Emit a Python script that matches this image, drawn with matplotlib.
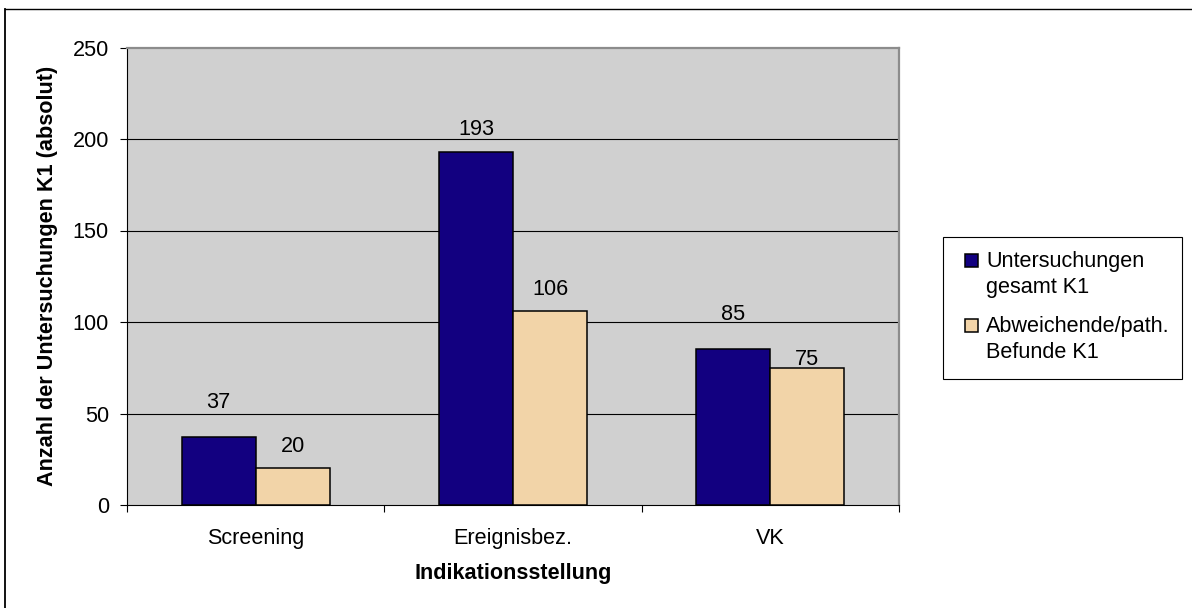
import matplotlib
matplotlib.use("Agg")
import matplotlib.pyplot as plt
from matplotlib.patches import Rectangle
from matplotlib.lines import Line2D

plt.rcParams['font.family'] = ['Liberation Sans', 'DejaVu Sans']

# Data
categories = ["Screening", "Ereignisbez.", "VK"]
series_names = ["Untersuchungen\ngesamt K1", "Abweichende/path.\nBefunde K1"]
untersuchungen_gesamt = [37, 193, 85]
abweichende_befunde = [20, 106, 75]
y_ticks = [0, 50, 100, 150, 200, 250]

colors = ["#120080", "#F2D4A8"]
# vertical gap (px) between each value label's baseline and its bar top
label_gaps = [[29, 17, 29], [16, 16, 3]]
FS = 15.6

W, H = 1192, 608
fig = plt.figure(figsize=(W / 100, H / 100), dpi=100)


def fx(px):
    return px / W


def fy(py):
    return 1 - py / H


ax = fig.add_axes([fx(127), fy(505), fx(899) - fx(127), fy(47.5) - fy(505)])
ax.set_facecolor("#D0D0D0")
ax.set_xlim(-0.5, len(categories) - 0.5)
ax.set_ylim(y_ticks[0], y_ticks[-1])

# horizontal grid lines (inner ticks only)
for yv in y_ticks[1:-1]:
    ax.axhline(yv, color="black", lw=0.8, zorder=1)

bar_w = 0.2876
xs = list(range(len(categories)))
for k, (vals, col) in enumerate(zip([untersuchungen_gesamt, abweichende_befunde], colors)):
    offset = (k - 0.5) * bar_w
    pos = [x + offset for x in xs]
    ax.bar(pos, vals, width=bar_w, color=col, edgecolor="black", linewidth=1.1, zorder=3)
    for p, v, g in zip(pos, vals, label_gaps[k]):
        ax.annotate(str(v), (p, v), xytext=(0, g * 0.72), textcoords="offset points",
                    ha="center", va="baseline", fontsize=FS, zorder=4)

# spines
for s in ("top", "right"):
    ax.spines[s].set_color("#8C8C8C")
    ax.spines[s].set_linewidth(1.6)
for s in ("left", "bottom"):
    ax.spines[s].set_color("black")
    ax.spines[s].set_linewidth(0.8)

ax.set_yticks(y_ticks)
ax.tick_params(axis="y", direction="out", length=5, width=0.8, pad=8, labelsize=FS)
ax.set_xticks(xs)
ax.set_xticklabels(categories)
ax.set_xticks([x - 0.5 for x in xs] + [xs[-1] + 0.5], minor=True)
ax.tick_params(axis="x", which="major", length=0, pad=16.5, labelsize=FS)
ax.tick_params(axis="x", which="minor", direction="out", length=5, width=0.8)

ax.set_xlabel("Indikationsstellung", fontsize=FS, fontweight="bold", labelpad=10.4)
ax.set_ylabel("Anzahl der Untersuchungen K1 (absolut)", fontsize=FS, fontweight="bold")
ax.yaxis.set_label_coords(-0.09, 0.5)

# legend box
fig.add_artist(Rectangle((fx(943), fy(379)), fx(1182) - fx(943), fy(237) - fy(379),
                         transform=fig.transFigure, facecolor="white",
                         edgecolor="black", linewidth=0.8))
first_baselines = [267, 332]
for name, col, bl in zip(series_names, colors, first_baselines):
    fig.add_artist(Rectangle((fx(965), fy(bl)), fx(978) - fx(965), fy(bl - 13) - fy(bl),
                             transform=fig.transFigure, facecolor=col,
                             edgecolor="black", linewidth=1.1))
    for i, line in enumerate(name.split("\n")):
        fig.text(fx(986), fy(bl + 26 * i), line, fontsize=FS, va="baseline", ha="left")

# outer chart border
fig.add_artist(Line2D([fx(4.5), fx(4.5)], [fy(9), 0], transform=fig.transFigure,
                      color="black", lw=1.3))
fig.add_artist(Line2D([fx(4.5), 1], [fy(9), fy(9)], transform=fig.transFigure,
                      color="black", lw=1.0))

fig.savefig("out.png", dpi=100)
